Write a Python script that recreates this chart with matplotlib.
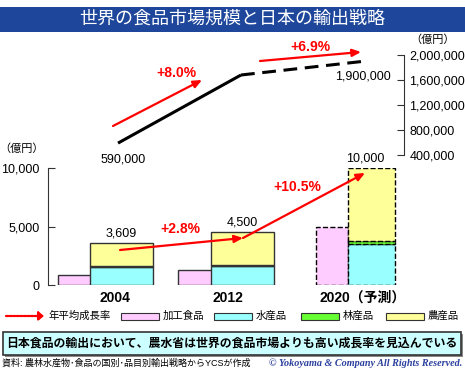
import matplotlib
matplotlib.use("Agg")
import matplotlib.pyplot as plt
from matplotlib.patches import Rectangle, FancyArrowPatch
import numpy as np

plt.rcParams['font.family'] = ['Liberation Sans', 'Noto Sans CJK JP']

# data
years = ['2004', '2012', '2020（予測）']
world_market = [590000, 1680000, 1900000]
world_growth = ['+8.0%', '+6.9%']
processed = [870, 1300, 5000]     # 加工食品
marine = [1500, 1650, 3500]       # 水産品
forest = [90, 80, 250]            # 林産品
agri = [2019, 2770, 6250]         # 農産品
export_growth = ['+2.8%', '+10.5%']
top_ticks = [400000, 800000, 1200000, 1600000, 2000000]
bottom_ticks = [0, 5000, 10000]

W, H = 465, 377
RED = '#ff0000'
EDGE = '#333333'
C_PINK, C_CYAN, C_GREEN, C_YELLOW = '#ffccff', '#99ffff', '#66ff33', '#ffff99'

# pixel layout helpers
X0, XS = 118, 123          # group 0 at pixel 118, one group = 123 px
def fx(px): return px / W
def fy(py): return 1 - py / H
def xu(px): return (px - X0) / XS

fig = plt.figure(figsize=(W / 100, H / 100), dpi=100)

# title bar
fig.patches.append(Rectangle((0, fy(32)), 1, fy(7) - fy(32), transform=fig.transFigure,
                             facecolor='#1e479c', edgecolor='none'))
fig.text(0.5, fy(19.5), '世界の食品市場規模と日本の輸出戦略', color='white', fontsize=13,
         ha='center', va='center')

# ---- top: world food market ----
ax_t = fig.add_axes([0, fy(155), fx(404), fy(55) - fy(155)])
ax_t.set_xlim(xu(0), xu(404))
ax_t.set_ylim(400000, 2000000)
ax_t.patch.set_visible(False)
for s in ['left', 'top', 'bottom']:
    ax_t.spines[s].set_visible(False)
ax_t.spines['right'].set_color(EDGE)
ax_t.yaxis.tick_right()
ax_t.set_yticks(top_ticks)
ax_t.set_yticklabels([f'{v:,}' for v in top_ticks])
ax_t.tick_params(axis='y', direction='in', length=5, pad=4, labelsize=9, color=EDGE)
ax_t.set_xticks([])

xs = np.arange(3)
ax_t.plot(xs[:2], world_market[:2], color='black', lw=2.2, solid_capstyle='butt')
ax_t.plot(xs[1:], world_market[1:], color='black', lw=2.2, dashes=(4.5, 2.5))
ax_t.annotate(f'{world_market[0]:,}', (xs[0], world_market[0]), xytext=(4, -12),
              textcoords='offset points', ha='center', va='center', fontsize=9)
ax_t.annotate(f'{world_market[2]:,}', (xs[2], world_market[2]), xytext=(-1, -11),
              textcoords='offset points', ha='center', va='center', fontsize=9)

top_arrows = [((xu(113), 864000), (xu(202), 1600000)),
              ((xu(260), 1904000), (xu(361), 2048000))]
top_label_pos = [(xu(176), 1712000), (xu(310), 2128000)]
for (a, b), lab, pos in zip(top_arrows, world_growth, top_label_pos):
    ax_t.annotate('', xy=b, xytext=a, annotation_clip=False,
                  arrowprops=dict(arrowstyle='-|>,head_length=0.5,head_width=0.22',
                                  color=RED, lw=1.6, shrinkA=0, shrinkB=0))
    ax_t.text(pos[0], pos[1], lab, color=RED, fontsize=10, fontweight='bold',
              ha='center', va='center', clip_on=False)
fig.text(fx(433), fy(40), '（億円）', fontsize=8, ha='center', va='center')

# ---- bottom: Japan food exports ----
ax_b = fig.add_axes([fx(48), fy(285), fx(465) - fx(48), fy(168) - fy(285)])
ax_b.set_xlim(xu(48), xu(465))
ax_b.set_ylim(0, 10000)
ax_b.patch.set_visible(False)
for s in ['right', 'top', 'bottom']:
    ax_b.spines[s].set_visible(False)
ax_b.spines['left'].set_color(EDGE)
ax_b.set_yticks(bottom_ticks)
ax_b.set_yticklabels([f'{v:,}' for v in bottom_ticks])
ax_b.tick_params(axis='y', direction='in', length=5, pad=6, labelsize=9, color=EDGE)

# bar geometry (offsets from group index, in group units)
pink_left = [-0.488, -0.512, -0.390]
pink_w = [0.529, 0.520, 0.260]
stack_left = [-0.228, -0.244, -0.130]
stack_w = [0.512, 0.512, 0.382]

for i in range(3):
    ls = '--' if i == 2 else '-'
    kw = dict(align='edge', edgecolor=EDGE if i < 2 else 'black', linewidth=1.0,
              linestyle=ls)
    ax_b.bar(i + pink_left[i], processed[i], pink_w[i], color=C_PINK, **kw)
    ax_b.bar(i + stack_left[i], marine[i], stack_w[i], color=C_CYAN, **kw)
    ax_b.bar(i + stack_left[i], forest[i], stack_w[i], bottom=marine[i], color=C_GREEN, **kw)
    ax_b.bar(i + stack_left[i], agri[i], stack_w[i], bottom=marine[i] + forest[i],
             color=C_YELLOW, **kw)
    total = marine[i] + forest[i] + agri[i]
    ax_b.annotate(f'{total:,}', (i + stack_left[i] + stack_w[i] / 2 - (0.05 if i == 2 else 0), total),
                  xytext=(0, 7), textcoords='offset points', ha='center', va='center',
                  fontsize=9, annotation_clip=False)

ax_b.set_xticks([xu(115), xu(228), xu(363)])
ax_b.set_xticklabels(years, fontsize=10, fontweight='bold')
ax_b.tick_params(axis='x', length=0, pad=4)

bot_arrows = [((xu(120), 2991), (xu(243), 4017)),
              ((xu(243), 4017), (xu(365), 9573))]
bot_label_pos = [(xu(180), 4786), (xu(297), 8376)]
for (a, b), lab, pos in zip(bot_arrows, export_growth, bot_label_pos):
    ax_b.annotate('', xy=b, xytext=a, annotation_clip=False,
                  arrowprops=dict(arrowstyle='-|>,head_length=0.5,head_width=0.22',
                                  color=RED, lw=1.6, shrinkA=0, shrinkB=0))
    ax_b.text(pos[0], pos[1], lab, color=RED, fontsize=10, fontweight='bold',
              ha='center', va='center', clip_on=False)
fig.text(fx(22), fy(149), '（億円）', fontsize=8, ha='center', va='center')

# ---- legend row ----
ly = fy(316)
fig.add_artist(FancyArrowPatch((fx(6), ly), (fx(44), ly), transform=fig.transFigure,
                               arrowstyle='-|>,head_length=3,head_width=2.5', color=RED,
                               lw=1.6, linestyle=(0, (1, 0.6)), shrinkA=0, shrinkB=0))
fig.text(fx(48), ly, '年平均成長率', fontsize=7.5, va='center')
legend_items = [(C_PINK, '加工食品', 121), (C_CYAN, '水産品', 214),
                (C_GREEN, '林産品', 301), (C_YELLOW, '農産品', 386)]
for col, lab, px in legend_items:
    fig.patches.append(Rectangle((fx(px), fy(319.5)), fx(38), fy(313) - fy(319.5),
                                 transform=fig.transFigure, facecolor=col,
                                 edgecolor=EDGE, lw=0.8))
    fig.text(fx(px + 42), ly, lab, fontsize=7.5, va='center')

# ---- message box ----
fig.patches.append(Rectangle((fx(5), fy(357)), fx(458), fy(334) - fy(357),
                             transform=fig.transFigure, facecolor='#888888', edgecolor='none'))
fig.patches.append(Rectangle((fx(3), fy(355)), fx(458), fy(332) - fy(355),
                             transform=fig.transFigure, facecolor='#ccffff',
                             edgecolor='#333333', lw=1.2))
fig.text(fx(232), fy(343.5), '日本食品の輸出において、農水省は世界の食品市場よりも高い成長率を見込んでいる',
         fontsize=8.6, fontweight='bold', ha='center', va='center')

# ---- footer ----
fig.text(fx(2), fy(363), '資料: 農林水産物･食品の国別･品目別輸出戦略からYCSが作成',
         fontsize=6.5, va='center')
fig.text(fx(462), fy(363), '© Yokoyama & Company All Rights Reserved.', fontsize=7.3,
         family='Liberation Serif', style='italic', fontweight='bold', color='#2b3f9e',
         ha='right', va='center')

fig.savefig('out.png', dpi=100)
